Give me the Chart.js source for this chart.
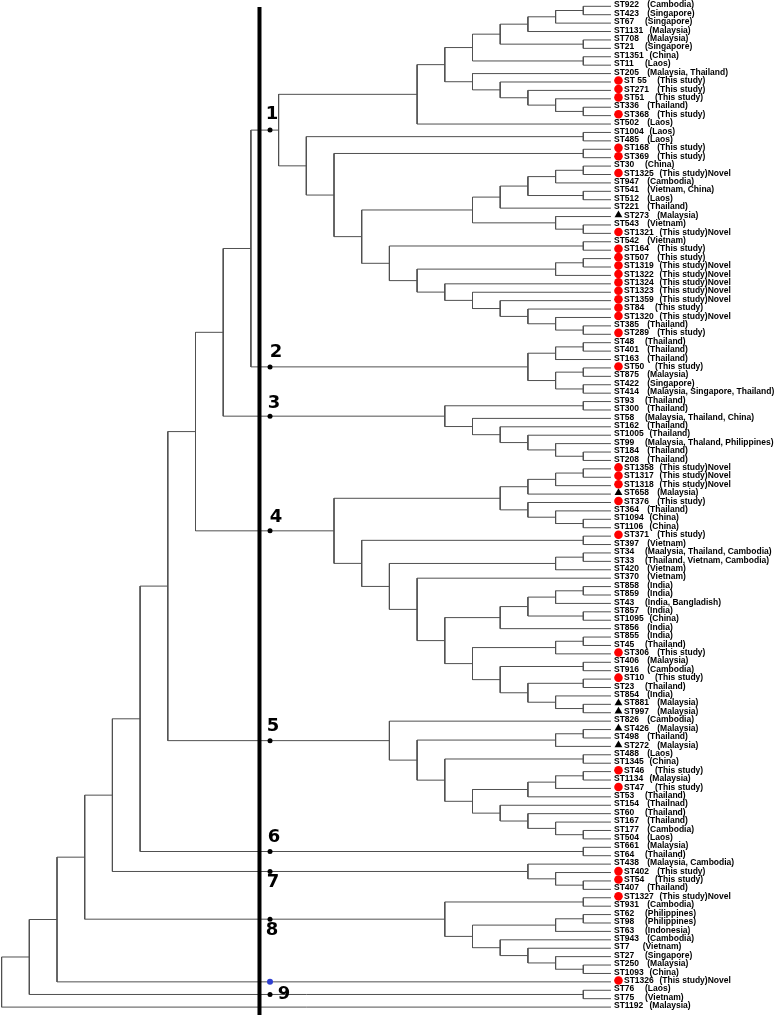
<!DOCTYPE html>
<html><head><meta charset="utf-8">
<script src="https://cdn.jsdelivr.net/npm/chart.js@4.4.0/dist/chart.umd.min.js"></script>
<style>html,body{margin:0;padding:0;background:#fff;}#wrap{width:778px;height:1015px;}</style>
</head><body><div id="wrap"><canvas id="c" width="778" height="1015"></canvas></div>
<script>
// ---- leaves (top to bottom) ----
const leafNames = ["ST922","ST423","ST67","ST1131","ST708","ST21","ST1351","ST11","ST205","ST 55",
"ST271","ST51","ST336","ST368","ST502","ST1004","ST485","ST168","ST369","ST30",
"ST1325","ST947","ST541","ST512","ST221","ST273","ST543","ST1321","ST542","ST164",
"ST507","ST1319","ST1322","ST1324","ST1323","ST1359","ST84","ST1320","ST385","ST289",
"ST48","ST401","ST163","ST50","ST875","ST422","ST414","ST93","ST300","ST58",
"ST162","ST1005","ST99","ST184","ST208","ST1358","ST1317","ST1318","ST658","ST376",
"ST364","ST1094","ST1106","ST371","ST397","ST34","ST33","ST420","ST370","ST858",
"ST859","ST43","ST857","ST1095","ST856","ST855","ST45","ST306","ST406","ST916",
"ST10","ST23","ST854","ST881","ST997","ST826","ST426","ST498","ST272","ST488",
"ST1345","ST46","ST1134","ST47","ST53","ST154","ST60","ST167","ST177","ST504",
"ST661","ST64","ST438","ST402","ST54","ST407","ST1327","ST931","ST62","ST98",
"ST63","ST943","ST7","ST27","ST250","ST1093","ST1326","ST76","ST75","ST1192"];
const leafOrigins = ["(Cambodia)","(Singapore)","(Singapore)","(Malaysia)","(Malaysia)","(Singapore)","(China)","(Laos)","(Malaysia, Thailand)","(This study)",
"(This study)","(This study)","(Thailand)","(This study)","(Laos)","(Laos)","(Laos)","(This study)","(This study)","(China)",
"(This study)Novel","(Cambodia)","(Vietnam, China)","(Laos)","(Thailand)","(Malaysia)","(Vietnam)","(This study)Novel","(Vietnam)","(This study)",
"(This study)","(This study)Novel","(This study)Novel","(This study)Novel","(This study)Novel","(This study)Novel","(This study)","(This study)Novel","(Thailand)","(This study)",
"(Thailand)","(Thailand)","(Thailand)","(This study)","(Malaysia)","(Singapore)","(Malaysia, Singapore, Thailand)","(Thailand)","(Thailand)","(Malaysia, Thailand, China)",
"(Thailand)","(Thailand)","(Malaysia, Thaland, Philippines)","(Thailand)","(Thailand)","(This study)Novel","(This study)Novel","(This study)Novel","(Malaysia)","(This study)",
"(Thailand)","(China)","(China)","(This study)","(Vietnam)","(Maalysia, Thailand, Cambodia)","(Thailand, Vietnam, Cambodia)","(Vietnam)","(Vietnam)","(India)",
"(India)","(India, Bangladish)","(India)","(China)","(India)","(India)","(Thailand)","(This study)","(Malaysia)","(Cambodia)",
"(This study)","(Thailand)","(India)","(Malaysia)","(Malaysia)","(Cambodia)","(Malaysia)","(Thailand)","(Malaysia)","(Laos)",
"(China)","(This study)","(Malaysia)","(This study)","(Thailand)","(Thailnad)","(Thailand)","(Thailand)","(Cambodia)","(Laos)",
"(Malaysia)","(Thailand)","(Malaysia, Cambodia)","(This study)","(This study)","(Thailand)","(This study)Novel","(Cambodia)","(Philippines)","(Philippines)",
"(Indonesia)","(Cambodia)","(Vietnam)","(Singapore)","(Malaysia)","(China)","(This study)Novel","(Laos)","(Vietnam)","(Malaysia)"];
const triangleLeaves = ["ST273","ST658","ST881","ST997","ST426","ST272"];

// ---- tree topology (leaf numbers, merge level after each ')') ----
const c1Upper = "(((((((1,2)1,3)2,4)3,(5,6)1)4,(7,8)1)5,(9,(10,(11,(12,(13,14)1)2)3)4)5)6,15)7";
const c1Mid = "(((((20,21)1,22)2,(23,24)1)3,25)4,(26,(27,28)1)2)5";
const c1Low = "((29,30)1,(((31,32)1,33)2,(34,(35,(36,(37,(38,(39,40)1)2)3)4)5)6)7)8";
const c4Upper = "((((56,57)1,58)2,59)3,(60,(61,(62,63)1)2)3)4";
const c4MidA = "((((70,71)1,72)2,(73,74)1)3,75)4";
const c4MidB = "(((76,77)1,78)2,((79,80)1,((81,82)1,(83,(84,85)1)2)3)4)5";
const clusterTrees = [
  "(" + c1Upper + ",((16,17)1,((18,19)1,(" + c1Mid + "," + c1Low + ")9)10)11)12",
  "(((41,42)1,43)2,((44,45)1,(46,47)1)2)3",
  "((48,49)1,(50,(51,(52,(53,(54,55)1)2)3)4)5)6",
  "(" + c4Upper + ",((64,65)1,(((66,67)1,68)2,(69,(" + c4MidA + "," + c4MidB + ")6)7)8)9)10",
  "(86,(((87,88)1,89)2,((90,91)1,((((92,93)1,94)2,95)3,(96,(97,(98,(99,100)1)2)3)4)5)6)7)8",
  "(101,102)1",
  "(103,(104,(105,106)1)2)3",
  "((107,108)1,(((109,110)1,111)2,(112,(113,(114,(115,116)1)2)3)4)5)6",
  "(118,119)1"
];
const backbone = "((((((((((C1,C2)13,C3)14,C4)15,C5)16,C6)17,C7)18,C8)19,117)20,C9)21,120)22";
const clusterNumbers = ["1","2","3","4","5","6","7","8","9"];
const clusterRanges = [[1,40],[41,47],[48,55],[56,85],[86,100],[101,102],[103,106],[107,116],[118,119]];
const highlightLeaf = 117;

// ---- styles / layout constants ----
const TREE_COLOR = "#505050";
const BAR_H = 12.69, DOT_H = 12.31, MARK_H = -0.27;
const clusterLabelOffset = [[2,-16],[6,-15],[4,-13],[6,-14],[3,-14],[4,-14],[3,11],[2,11],[14,0]];

// ---- parse ----
function parseTree(s){
  let i = 0;
  function num(){ let t=""; while(i<s.length && /[0-9]/.test(s[i])) t+=s[i++]; return +t; }
  function node(){
    if(s[i]==="("){ i++; const kids=[node()]; while(s[i]===","){ i++; kids.push(node()); } i++; const h=num(); return {h, kids}; }
    return {h:0, leaf:num()};
  }
  return node();
}
const fullTree = parseTree(backbone.replace(/C(\d)/g, (m,d)=>clusterTrees[+d-1]));
function layout(n){
  if(n.kids){ n.kids.forEach(layout); n.y=(n.kids[0].y+n.kids[n.kids.length-1].y)/2; n.min=Math.min(...n.kids.map(k=>k.min)); n.max=Math.max(...n.kids.map(k=>k.max)); }
  else { n.y=n.leaf-1; n.min=n.max=n.leaf; }
}
layout(fullTree);
const treePts = [];
const clusterNodes = [];
function walk(n){
  if(!n.kids) return;
  const a=n.kids[0], b=n.kids[n.kids.length-1];
  treePts.push({x:a.h,y:a.y},{x:n.h,y:a.y},{x:n.h,y:b.y},{x:b.h,y:b.y},{x:null,y:null});
  for(let k=1;k<n.kids.length-1;k++){ const c=n.kids[k]; treePts.push({x:n.h,y:c.y},{x:c.h,y:c.y},{x:null,y:null}); }
  clusterRanges.forEach((r,ci)=>{ if(n.min===r[0]&&n.max===r[1]) clusterNodes[ci]=n; });
  n.kids.forEach(walk);
}
walk(fullTree);

const circlePts=[], trianglePts=[];
leafNames.forEach((nm,i)=>{
  if(triangleLeaves.includes(nm)) trianglePts.push({x:MARK_H,y:i-0.17});
  else if(leafOrigins[i].startsWith("(This study")) circlePts.push({x:MARK_H,y:i-0.17});
});
const dotPts = clusterNodes.map(n=>({x:DOT_H,y:n.y}));
const bluePts = [{x:DOT_H,y:highlightLeaf-1}];

const labelPlugin = {
  id:"leafLabels",
  afterDatasetsDraw(chart){
    const ctx=chart.ctx, xs=chart.scales.x, ys=chart.scales.y;
    ctx.save();
    ctx.fillStyle="#000";
    ctx.font='bold 8.5px "Liberation Sans", Arial, sans-serif';
    ctx.textBaseline="middle"; ctx.textAlign="left";
    const tip = xs.getPixelForValue(0);
    leafNames.forEach((nm,i)=>{
      const marked = triangleLeaves.includes(nm) || leafOrigins[i].startsWith("(This study");
      const y = ys.getPixelForValue(i) - 1.2;
      const x0 = tip + (marked ? 13 : 3);
      ctx.fillText(nm, x0, y);
      ctx.fillText(leafOrigins[i], x0 + 22 + 2.25*nm.length, y);
    });
    ctx.font='bold 18px "DejaVu Sans", Verdana, sans-serif';
    ctx.textAlign="center";
    clusterNodes.forEach((n,ci)=>{
      const px = xs.getPixelForValue(DOT_H) + clusterLabelOffset[ci][0];
      const py = ys.getPixelForValue(n.y) + clusterLabelOffset[ci][1];
      ctx.fillText(clusterNumbers[ci], px, py);
    });
    ctx.restore();
  }
};

new Chart(document.getElementById("c"), {
  type:"line",
  data:{datasets:[
    {data:dotPts, showLine:false, pointRadius:2.5, pointBackgroundColor:"#000", pointBorderWidth:0, clip:false},
    {data:bluePts, showLine:false, pointRadius:3, pointBackgroundColor:"#2f3fd0", pointBorderWidth:0, clip:false},
    {data:[{x:BAR_H,y:0.08},{x:BAR_H,y:120}], borderColor:"#000", borderWidth:4, pointRadius:0, clip:false},
    {data:circlePts, showLine:false, pointRadius:4.3, pointStyle:"circle", pointBackgroundColor:"#ff0000", pointBorderWidth:0, clip:false},
    {data:trianglePts, showLine:false, pointRadius:4.5, pointStyle:"triangle", pointBackgroundColor:"#000", pointBorderWidth:0, clip:false},
    {data:treePts, borderColor:TREE_COLOR, borderWidth:1, pointRadius:0, spanGaps:false, clip:false}
  ]},
  options:{
    responsive:false, animation:false, events:[],
    layout:{padding:0, autoPadding:false},
    plugins:{legend:{display:false}, tooltip:{enabled:false}},
    scales:{
      x:{type:"linear", reverse:true, min:-6.029, max:22.058, display:false},
      y:{type:"linear", reverse:true, min:-0.749, max:119.94, display:false}
    }
  },
  plugins:[labelPlugin]
});
</script></body></html>
